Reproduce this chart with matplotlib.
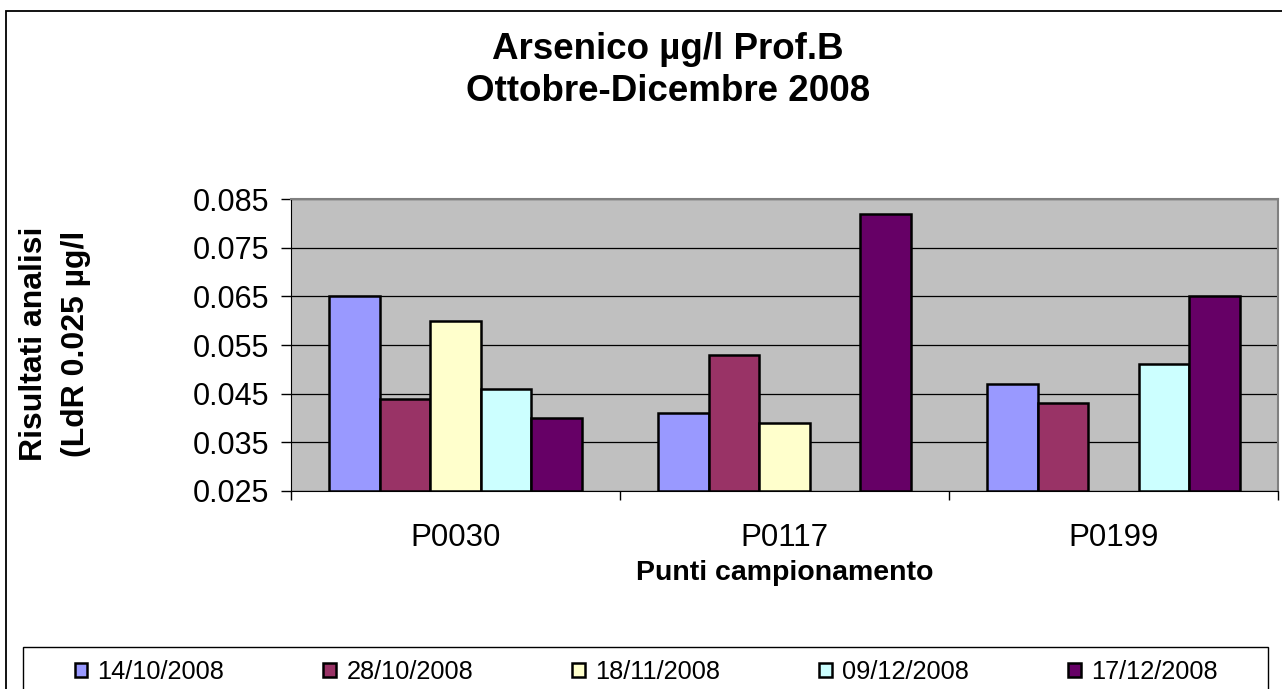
import matplotlib
matplotlib.use("Agg")
import matplotlib.pyplot as plt
from matplotlib.patches import Rectangle
import numpy as np

categories = ["P0030", "P0117", "P0199"]
series_names = ["14/10/2008", "28/10/2008", "18/11/2008", "09/12/2008", "17/12/2008"]
s_14_10 = [0.065, 0.041, 0.047]
s_28_10 = [0.044, 0.053, 0.043]
s_18_11 = [0.060, 0.039, np.nan]
s_09_12 = [0.046, np.nan, 0.051]
s_17_12 = [0.040, 0.082, 0.065]
series_values = [s_14_10, s_28_10, s_18_11, s_09_12, s_17_12]
colors = ["#9999FF", "#993366", "#FFFFCC", "#CCFFFF", "#660066"]
yticks = [0.025, 0.035, 0.045, 0.055, 0.065, 0.075, 0.085]
title_lines = ["Arsenico µg/l Prof.B", "Ottobre-Dicembre 2008"]
ylabel_lines = ["Risultati analisi", "(LdR 0.025 µg/l"]
xlabel = "Punti campionamento"

plt.rcParams['font.family'] = ['Liberation Sans', 'DejaVu Sans']

W, H = 1282, 689
fig = plt.figure(figsize=(W / 100, H / 100), dpi=100)
fig.patch.set_facecolor("white")


def fx(px):
    return px / W


def fy(py):
    return 1 - py / H


# outer chart border
fig.patches.append(Rectangle((fx(6), -1), 2, fy(11) + 1, transform=fig.transFigure,
                             fill=False, edgecolor="black", linewidth=1.3))

ax = fig.add_axes([fx(291), fy(491), (1278 - 291) / W, (491 - 199) / H])
ax.set_facecolor("#C0C0C0")

n = len(series_names)
bw = 1 / (n + 1.5)
x = np.arange(len(categories))
handles = []
for j, (name, vals, c) in enumerate(zip(series_names, series_values, colors)):
    b = ax.bar(x + (j - (n - 1) / 2) * bw, np.array(vals) - 0.025, bottom=0.025, width=bw,
               color=c, edgecolor="black", linewidth=1.8, label=name, zorder=3)
    handles.append(b)

ax.set_xlim(-0.5, len(categories) - 0.5)
ax.set_ylim(0.025, 0.085)
ax.set_yticks(yticks)
ax.set_yticklabels([f"{v:.3f}" for v in yticks], fontsize=22)
ax.yaxis.grid(True, color="black", linewidth=0.9, zorder=1)
ax.set_axisbelow(True)

ax.set_xticks(x)
ax.set_xticklabels(categories, fontsize=22.5)
ax.set_xticks(np.arange(len(categories) + 1) - 0.5, minor=True)
ax.tick_params(axis="x", which="major", length=0, pad=23)
ax.tick_params(axis="x", which="minor", length=6.5, width=1, color="black", direction="out")
ax.tick_params(axis="y", length=7, width=1, direction="out", pad=9)

for s in ["top", "right"]:
    ax.spines[s].set_color("#808080")
    ax.spines[s].set_linewidth(1.5)
ax.spines["left"].set_color("black")
ax.spines["bottom"].set_color("black")

ax.set_xlabel(xlabel, fontsize=20.5, fontweight="bold", labelpad=5)

# y label, two lines (baselines)
for bx, txt in zip([42.5, 84], ylabel_lines):
    fig.text(fx(bx), fy(344), txt, rotation=90, rotation_mode="anchor",
             ha="center", va="baseline", fontsize=23, fontweight="bold")

# title, two lines (baselines)
for by, txt in zip([59, 101], title_lines):
    fig.text(fx(668), fy(by), txt, ha="center", va="baseline",
             fontsize=26.5, fontweight="bold")

# legend box
fig.patches.append(Rectangle((fx(23), -1), fx(1268) - fx(23), fy(647) + 1,
                             transform=fig.transFigure, fill=False,
                             edgecolor="black", linewidth=1.0))
leg = fig.legend(handles=handles, labels=series_names, loc="center",
                 bbox_to_anchor=(fx(646), fy(672)), ncol=5, frameon=False,
                 fontsize=18.3, handlelength=0.5, handleheight=0.5, handletextpad=0.4,
                 columnspacing=3.9, borderpad=0, borderaxespad=0)

fig.savefig("out.png", dpi=100)
